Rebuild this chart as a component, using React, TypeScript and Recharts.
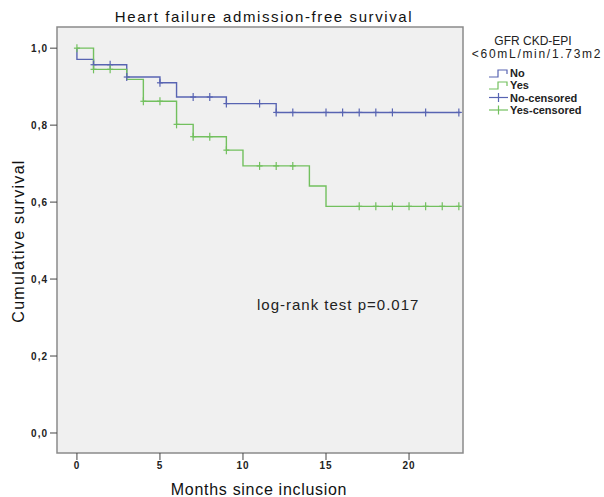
import React from "react";
import { ComposedChart, Line, Scatter, XAxis, YAxis, ReferenceArea } from "recharts";

// Kaplan-Meier step points (months, cumulative survival)
const noTimes = [0, 0, 1, 3, 5, 6, 9, 12, 23.1];
const noSurv = [1.0, 0.971, 0.957, 0.925, 0.91, 0.873, 0.856, 0.833, 0.833];
const yesTimes = [0, 1, 3, 4, 6, 7, 9, 10, 14, 15, 23.1];
const yesSurv = [1.0, 0.945, 0.919, 0.862, 0.802, 0.77, 0.735, 0.694, 0.642, 0.589, 0.589];

// Censored observations
const noCensTimes = [1, 2, 3, 5, 7, 8, 9, 11, 12, 13, 15, 16, 17, 18, 19, 21, 23];
const noCensSurv = [0.957, 0.957, 0.925, 0.91, 0.873, 0.873, 0.856, 0.856, 0.833, 0.833, 0.833, 0.833, 0.833, 0.833, 0.833, 0.833, 0.833];
const yesCensTimes = [0, 1, 2, 4, 5, 6, 7, 8, 9, 11, 12, 13, 17, 18, 19, 20, 21, 22, 23];
const yesCensSurv = [1.0, 0.945, 0.945, 0.862, 0.862, 0.802, 0.77, 0.77, 0.735, 0.694, 0.694, 0.694, 0.589, 0.589, 0.589, 0.589, 0.589, 0.589, 0.589];

const xTicks = [0, 5, 10, 15, 20];
const yTicks = [0, 0.2, 0.4, 0.6, 0.8, 1.0];

const title = "Heart failure admission-free survival";
const xLabel = "Months since inclusion";
const yLabel = "Cumulative survival";
const legendTitle1 = "GFR CKD-EPI";
const legendTitle2 = "<60mL/min/1.73m2";
const legendLabels = ["No", "Yes", "No-censored", "Yes-censored"];
const annotation = "log-rank test p=0.017";

const BLUE = "#5864b2";
const GREEN = "#72c05e";

const zip = (t: number[], s: number[]) => t.map((v, i) => ({ t: v, s: s[i] }));
const noData = zip(noTimes, noSurv);
const yesData = zip(yesTimes, yesSurv);
const noCens = zip(noCensTimes, noCensSurv);
const yesCens = zip(yesCensTimes, yesCensSurv);

const censorShape = (color: string) => (props: any) => {
  const { cx, cy } = props;
  if (cx == null || cy == null) return <g />;
  return (
    <g>
      <line x1={cx} y1={cy - 4} x2={cx} y2={cy + 4} stroke={color} strokeWidth={1.2} />
      <line x1={cx - 3} y1={cy} x2={cx + 3} y2={cy} stroke={color} strokeWidth={1.2} />
    </g>
  );
};

const FONT = "'Liberation Sans', Arial, Helvetica, sans-serif";

const tickStyle = { fontSize: 10, fontWeight: 700, fill: "#222", fontFamily: FONT, letterSpacing: 1 };

export default function App() {
  return (
    <div style={{ position: "absolute", left: 0, top: 0, width: 604, height: 497, background: "#fff" }}>
      <ComposedChart
        width={604}
        height={497}
        margin={{ top: 27, right: 141, bottom: 0, left: 0 }}
      >
        <XAxis
          type="number"
          dataKey="t"
          domain={[-1.2, 23.25]}
          ticks={xTicks}
          allowDataOverflow
          height={44}
          axisLine={false}
          tickLine={{ stroke: "#444" }}
          tickSize={7}
          tickMargin={2}
          tick={tickStyle}
        />
        <YAxis
          type="number"
          dataKey="s"
          domain={[-0.052, 1.055]}
          ticks={yTicks}
          allowDataOverflow
          width={57}
          axisLine={false}
          tickLine={{ stroke: "#444" }}
          tickSize={7}
          tickMargin={2}
          tick={tickStyle}
          tickFormatter={(v: number) => v.toFixed(1).replace(".", ",")}
        />
        <ReferenceArea
          x1={-1.2}
          x2={23.25}
          y1={-0.052}
          y2={1.055}
          fill="#f0f0f0"
          fillOpacity={1}
          stroke="#8a8a8a"
          strokeWidth={1.5}
          ifOverflow="visible"
        />
        <Line data={noData} dataKey="s" type="stepAfter" stroke={BLUE} strokeWidth={1.4} dot={false} isAnimationActive={false} />
        <Line data={yesData} dataKey="s" type="stepAfter" stroke={GREEN} strokeWidth={1.4} dot={false} isAnimationActive={false} />
        <Scatter data={noCens} dataKey="s" shape={censorShape(BLUE)} isAnimationActive={false} />
        <Scatter data={yesCens} dataKey="s" shape={censorShape(GREEN)} isAnimationActive={false} />
      </ComposedChart>
      <svg
        width={604}
        height={497}
        style={{ position: "absolute", left: 0, top: 0, pointerEvents: "none" }}
        fontFamily={FONT}
      >
        <text x={264} y={22} textAnchor="middle" fontSize={15} letterSpacing={1.6} fill="#111">{title}</text>
        <text x={259} y={495} textAnchor="middle" fontSize={16} letterSpacing={0.7} fill="#111">{xLabel}</text>
        <text x={24} y={241} textAnchor="middle" fontSize={16} letterSpacing={1.3} fill="#111" transform="rotate(-90 24 241)">{yLabel}</text>
        <text x={257} y={310} fontSize={15} letterSpacing={1} fill="#222">{annotation}</text>
        <text x={533} y={45} textAnchor="middle" fontSize={12} fill="#222">{legendTitle1}</text>
        <text x={537} y={58} textAnchor="middle" fontSize={12} letterSpacing={1.7} fill="#222">{legendTitle2}</text>
        <path d="M489,77 H498 V70 H507 V74" fill="none" stroke={BLUE} strokeWidth={1.2} />
        <path d="M489,89 H498 V82 H507 V86" fill="none" stroke={GREEN} strokeWidth={1.2} />
        <line x1={489} y1={97.5} x2={508} y2={97.5} stroke={BLUE} strokeWidth={1.2} />
        <line x1={498.5} y1={93} x2={498.5} y2={102} stroke={BLUE} strokeWidth={1.2} />
        <line x1={489} y1={110} x2={508} y2={110} stroke={GREEN} strokeWidth={1.2} />
        <line x1={498.5} y1={105.5} x2={498.5} y2={114.5} stroke={GREEN} strokeWidth={1.2} />
        <text x={510} y={77} fontSize={11} fontWeight={700} fill="#222">{legendLabels[0]}</text>
        <text x={510} y={89} fontSize={11} fontWeight={700} fill="#222">{legendLabels[1]}</text>
        <text x={510} y={101.5} fontSize={11} fontWeight={700} fill="#222">{legendLabels[2]}</text>
        <text x={510} y={114} fontSize={11} fontWeight={700} fill="#222">{legendLabels[3]}</text>
      </svg>
    </div>
  );
}
